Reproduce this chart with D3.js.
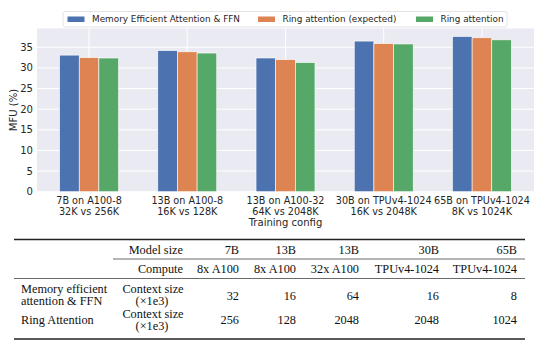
<!DOCTYPE html>
<html><head><meta charset="utf-8">
<script src="https://cdn.jsdelivr.net/npm/d3@7"></script>
<style>body{margin:0;background:#fff;}svg{display:block;}</style>
</head><body>
<svg id="c" width="554" height="355"></svg>
<script>
const configs = ["7B on A100-8\n32K vs 256K","13B on A100-8\n16K vs 128K","13B on A100-32\n64K vs 2048K","30B on TPUv4-1024\n16K vs 2048K","65B on TPUv4-1024\n8K vs 1024K"];
const seriesNames = ["Memory Efficient Attention & FFN","Ring attention (expected)","Ring attention"];
const memEff = [33.1, 34.2, 32.4, 36.5, 37.6];
const ringExpected = [32.5, 33.9, 32.0, 35.9, 37.3];
const ringActual = [32.4, 33.6, 31.3, 35.8, 36.8];
const yTicks = [0,5,10,15,20,25,30,35];
const colors = ["#4C72B0","#DD8452","#55A868"];

const modelSizes = ["7B","13B","13B","30B","65B"];
const computes = ["8x A100","8x A100","32x A100","TPUv4-1024","TPUv4-1024"];
const ctxMem = ["32","16","64","16","8"];
const ctxRing = ["256","128","2048","2048","1024"];

const svg = d3.select("#c");
const series = [memEff, ringExpected, ringActual];

// measure helper: font size for DejaVu Sans so that text reaches a target width
function fitSize(s, target){
  const t = svg.append("text").attr("font-family","DejaVu Sans").attr("font-size",10).text(s);
  const w = t.node().getComputedTextLength(); t.remove();
  return 10*target/w;
}

const L = 37, R = 534, T = 28.5, B = 191.7;
const x = d3.scaleLinear().domain([-0.53, 4.53]).range([L, R]);
const y = d3.scaleLinear().domain([0, 39.55]).range([B, T]);

svg.append("rect").attr("x",L).attr("y",T).attr("width",R-L).attr("height",B-T).attr("fill","#EAEAF2");
const g = svg.append("g");
g.selectAll(".gy").data(yTicks).join("line")
  .attr("x1",L).attr("x2",R).attr("y1",d=>y(d)).attr("y2",d=>y(d))
  .attr("stroke","#fff").attr("stroke-width",1);
g.selectAll(".gx").data(configs.map((d,i)=>i)).join("line")
  .attr("x1",d=>x(d)).attr("x2",d=>x(d)).attr("y1",T).attr("y2",B)
  .attr("stroke","#fff").attr("stroke-width",1);

const bw = 0.2;
series.forEach((vals, s) => {
  g.selectAll(".b"+s).data(vals).join("rect")
    .attr("x",(d,i)=>x(i + (s-1)*bw - bw/2))
    .attr("width", x(bw)-x(0))
    .attr("y", d=>y(d))
    .attr("height", d=>y(0)-y(d))
    .attr("fill", colors[s])
    .attr("stroke","#fff").attr("stroke-width",0.6);
});

const tickFs = Math.min(10.5, fitSize("30B on TPUv4-1024", 96));
svg.selectAll(".yt").data(yTicks).join("text")
  .attr("x", L-4).attr("y", d=>y(d)).attr("dy","0.35em")
  .attr("text-anchor","end").attr("font-family","DejaVu Sans").attr("font-size",tickFs*1.04)
  .attr("fill","#262626").text(d=>d);
svg.append("text").attr("transform",`translate(13.5,${(T+B)/2}) rotate(-90)`)
  .attr("text-anchor","middle").attr("dy","0.35em").attr("font-family","DejaVu Sans")
  .attr("font-size",tickFs*1.04).attr("fill","#262626").text("MFU (%)");

configs.forEach((c,i)=>{
  const lines = c.split("\n");
  const t = svg.append("text").attr("text-anchor","middle").attr("font-family","DejaVu Sans")
    .attr("font-size",tickFs).attr("fill","#262626");
  lines.forEach((ln,j)=>{
    t.append("tspan").attr("x",x(i)).attr("y",203.5+j*11).text(ln);
  });
});
svg.append("text").attr("x",(L+R)/2).attr("y",226).attr("text-anchor","middle")
  .attr("font-family","DejaVu Sans").attr("font-size",tickFs*1.04).attr("fill","#262626").text("Training config");

const lg = svg.append("g");
lg.append("rect").attr("x",63).attr("y",11.5).attr("width",444).attr("height",15.5).attr("rx",2)
  .attr("fill","#fff").attr("fill-opacity",0.8).attr("stroke","#dcdcdc").attr("stroke-width",0.8);
const legX = [67.5, 258, 416];
const legFs = fitSize(seriesNames[0], 148);
seriesNames.forEach((n,i)=>{
  lg.append("rect").attr("x",legX[i]).attr("y",16.5).attr("width",17).attr("height",5.5).attr("fill",colors[i]);
  lg.append("text").attr("x",legX[i]+24.5).attr("y",19.3).attr("dy","0.35em")
    .attr("font-family","DejaVu Sans").attr("font-size",legFs).attr("fill","#262626").text(n);
});

const tb = svg.append("g").attr("font-family","Liberation Serif").attr("font-size",12.3).attr("fill","#111");
const TL = 14, TR = 525;
tb.append("line").attr("x1",TL).attr("x2",TR).attr("y1",239.5).attr("y2",239.5).attr("stroke","#222").attr("stroke-width",1.4);
tb.append("line").attr("x1",113).attr("x2",TR).attr("y1",259).attr("y2",259).attr("stroke","#444").attr("stroke-width",0.8);
tb.append("line").attr("x1",TL).attr("x2",TR).attr("y1",278.5).attr("y2",278.5).attr("stroke","#444").attr("stroke-width",0.8);
tb.append("line").attr("x1",TL).attr("x2",TR).attr("y1",339).attr("y2",339).attr("stroke","#222").attr("stroke-width",1.4);
const colX = [239, 296, 359, 439, 517];
const txt = (xx,yy,s,anchor)=>tb.append("text").attr("x",xx).attr("y",yy).attr("dy","0.35em").attr("text-anchor",anchor).text(s);
txt(183,249.5,"Model size","end");
txt(183,268.5,"Compute","end");
modelSizes.forEach((d,i)=>txt(colX[i],249.5,d,"end"));
computes.forEach((d,i)=>txt(colX[i],268.5,d,"end"));
txt(21,289,"Memory efficient","start");
txt(21,301,"attention & FFN","start");
txt(21,320,"Ring Attention","start");
txt(153,289,"Context size","middle");
txt(152,301,"(\u00d71e3)","middle");
txt(153,314,"Context size","middle");
txt(152,326,"(\u00d71e3)","middle");
ctxMem.forEach((d,i)=>txt(colX[i],295.5,d,"end"));
ctxRing.forEach((d,i)=>txt(colX[i],320,d,"end"));
</script>
</body></html>
